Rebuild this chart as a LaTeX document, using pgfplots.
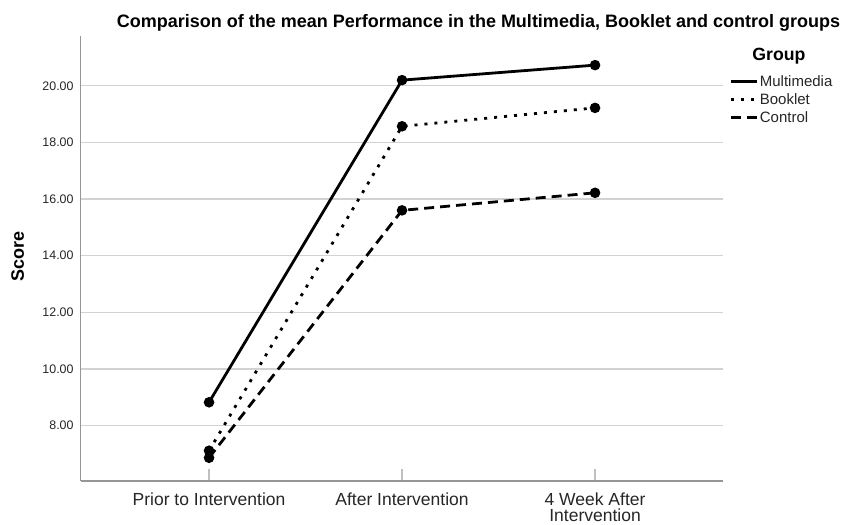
\documentclass[border=0pt]{standalone}
\usepackage{pgfplots}
\pgfplotsset{compat=1.18}
\usepackage{fontspec}
\setmainfont{Liberation Sans}
\definecolor{gridc}{RGB}{210,210,210}
\definecolor{axc}{RGB}{150,150,150}
\begin{document}
\begin{tikzpicture}
\useasboundingbox (-80.7pt,-44pt) rectangle (766.3pt,481pt);
\begin{axis}[
  at={(0pt,0pt)}, anchor=south west,
  scale only axis, width=642.3pt, height=445.3pt,
  xmin=-0.665, xmax=2.663, ymin=6.04, ymax=21.77,
  axis lines=left, axis line style={-, draw=axc, line width=1.2pt},
  ymajorgrids, grid style={draw=gridc, line width=1.3pt},
  ytick={8,10,12,14,16,18,20},
  ytick style={draw=none},
  xtick={0,1,2},
  xticklabels={Prior to Intervention, After Intervention, {4 Week After\\Intervention}},
  xtick style={draw=gridc!70!axc, line width=1.2pt},
  major tick length=12pt, tick align=inside,
  /pgf/number format/assume math mode=true,
  yticklabel style={/pgf/number format/.cd, fixed, fixed zerofill, precision=2, /tikz/.cd,
    anchor=east, inner sep=0pt, xshift=-7pt, font=\fontsize{12.4}{15}\selectfont, text=black!85},
  xticklabel style={anchor=north, inner sep=0pt, yshift=-11.2pt, align=center,
    font=\fontsize{17.5}{16.8}\selectfont, text=black!85},
  legend style={draw=none, fill=none, at={(1.006,0.918)}, anchor=north west,
    font=\fontsize{15}{18}\selectfont, row sep=3.5pt,
    nodes={inner sep=1pt, text=black!85}},
  legend cell align=left,
  legend image code/.code={\draw[#1,mark=none] (0pt,0pt) -- (26pt,0pt);},
]
\addplot[black, line width=2.8pt, mark=*, mark size=3.8pt, mark options={solid}]
  coordinates {(0,8.82) (1,20.20) (2,20.73)};
\addlegendentry{Multimedia}
\addplot[black, line width=2.8pt, dash pattern=on 3pt off 7pt, mark=*, mark size=3.8pt, mark options={solid}]
  coordinates {(0,7.11) (1,18.57) (2,19.22)};
\addlegendentry{Booklet}
\addplot[black, line width=2.8pt, dash pattern=on 10pt off 6pt, mark=*, mark size=3.8pt, mark options={solid}]
  coordinates {(0,6.86) (1,15.60) (2,16.22)};
\addlegendentry{Control}
\end{axis}
\node[anchor=base, font=\bfseries\fontsize{18}{20}\selectfont] at (397.8pt,453.7pt)
  {Comparison of the mean Performance in the Multimedia, Booklet and control groups};
\node[anchor=base, rotate=90, font=\bfseries\fontsize{18}{20}\selectfont] at (-56.7pt,224.3pt) {Score};
\node[anchor=base, font=\bfseries\fontsize{17.7}{20}\selectfont] at (698.3pt,420.3pt) {Group};
\end{tikzpicture}
\end{document}
